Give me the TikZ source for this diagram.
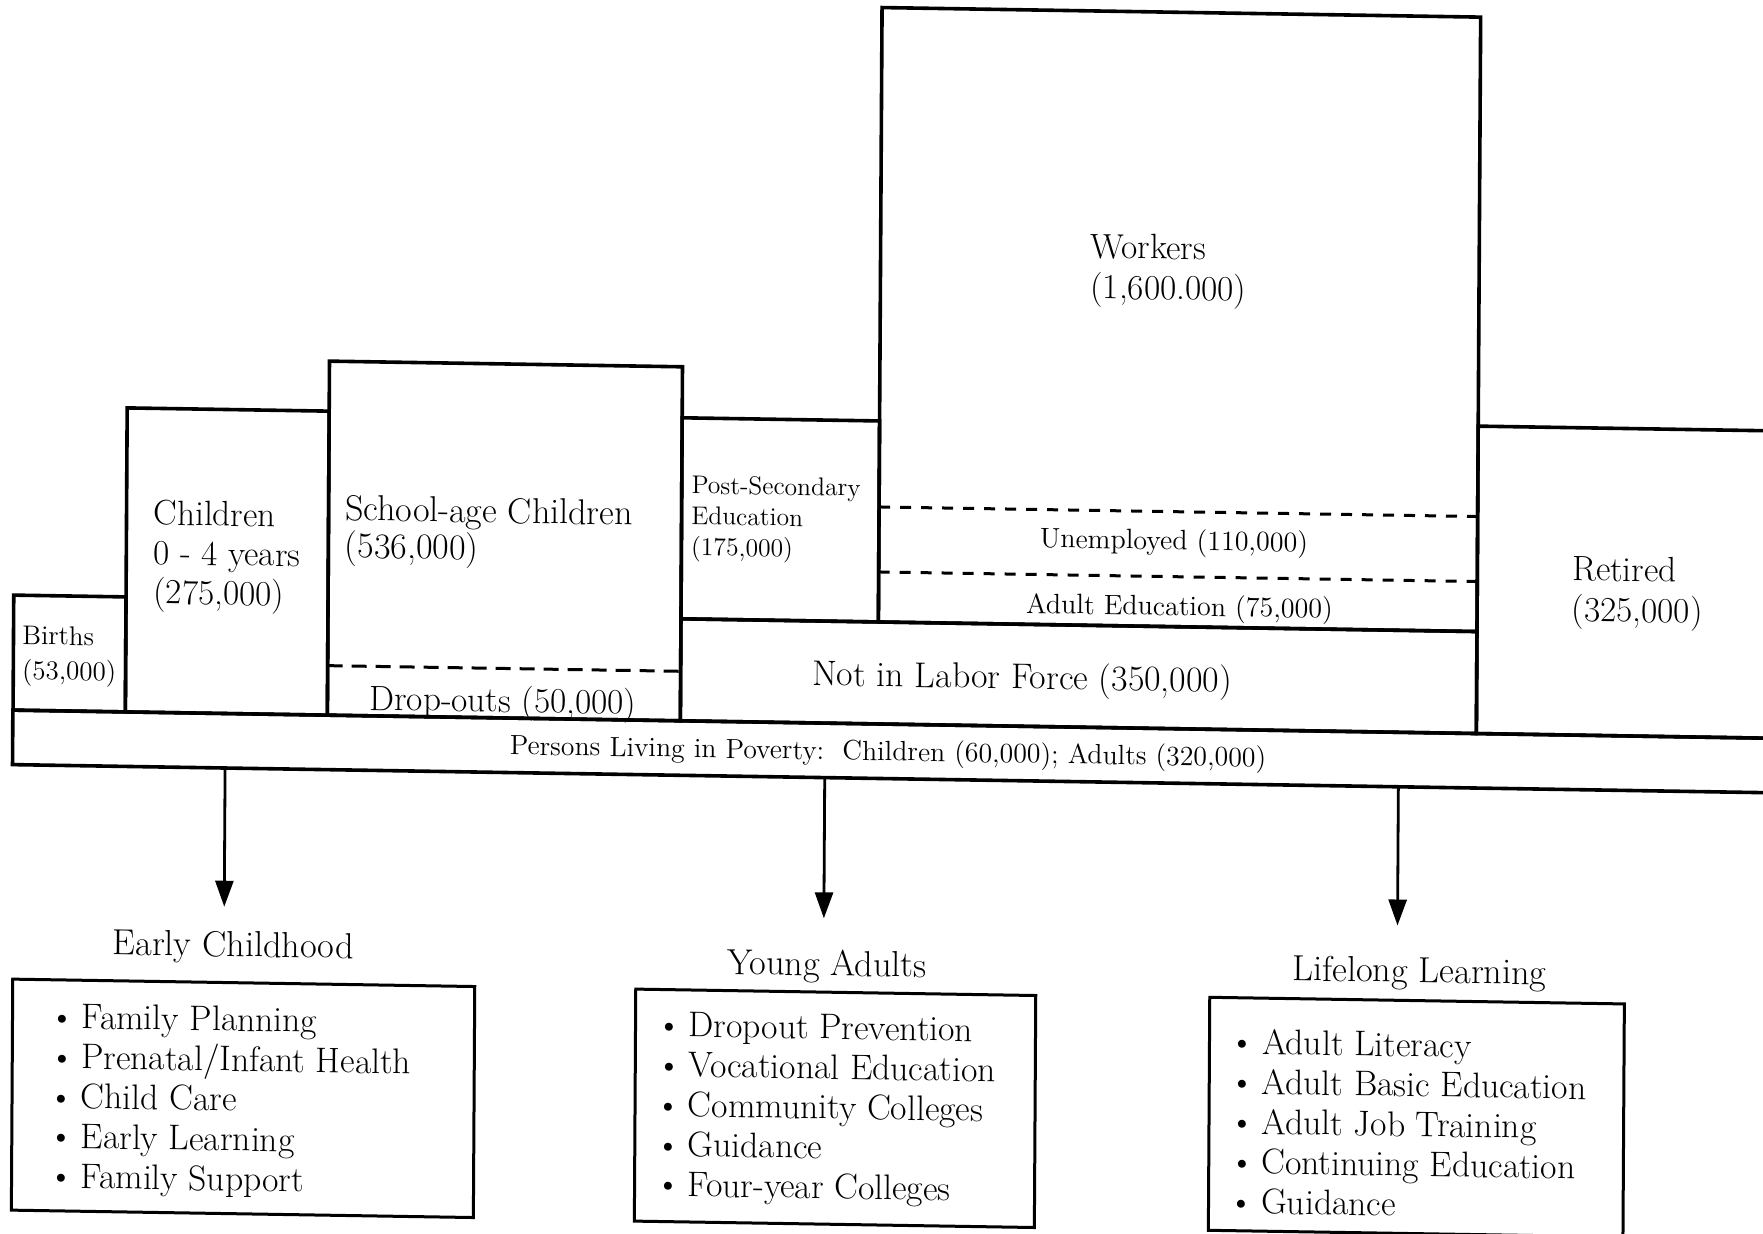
\documentclass[tikz,border=0pt]{standalone}
\usetikzlibrary{arrows.meta,calc}
\newcommand\bulitem{\makebox[8pt][c]{\textbullet}\hspace{5.65pt}}
\begin{document}
\begin{tikzpicture}[x=0.5pt,y=-0.5pt,
  every node/.style={transform shape, inner sep=0pt, outer sep=0pt},
  block/.style={draw=black, line width=1.8pt, rectangle, anchor=north west},
  lowblock/.style={draw=black, line width=1.5pt, rectangle, anchor=north west},
  lbl/.style={align=left, anchor=north west},
  divider/.style={line width=1.5pt, dash pattern=on 7.5pt off 4.5pt},
  divider2/.style={line width=1.5pt, dash pattern=on 5.5pt off 5pt},
  arr/.style={line width=1.4pt, -{Triangle[length=13pt,width=9pt]}},
  head/.style={font=\fontsize{18.1}{20}\selectfont},
  listtxt/.style={lbl, font=\fontsize{17.8}{19.95}\selectfont}
]
\useasboundingbox (0,0) rectangle (1763,1234);
\clip (0,0) rectangle (1763,1234);
\begin{scope}[cm={1,-0.016,0.006,1,(1.851pt,7.048pt)}]
  % upper blocks
  \node[block, minimum width=56.15pt, minimum height=57.5pt] (births) at (13.7,609) {};
  \node[block, minimum width=101pt, minimum height=152pt] (kids) at (126,420) {};
  \node[block, minimum width=176.5pt, minimum height=177pt] (school) at (328,370) {};
  \node[block, minimum width=98.7pt, minimum height=100.5pt] (postsec) at (681,421) {};
  \node[block, minimum width=299.3pt, minimum height=307.2pt] (workers) at (878.4,7.6) {};
  \node[block, minimum width=398pt, minimum height=51pt] (nlf) at (681,622) {};
  \node[block, minimum width=186.5pt, minimum height=153.7pt] (retired) at (1477,416.6) {};
  \node[block, minimum width=918.25pt, minimum height=27.25pt] (band) at (13.5,724) {};
  % dividers
  \draw[divider] (328,674.5) -- (681,674.5);
  \draw[divider2] (878.4,507) -- (1477,507);
  \draw[divider2] (878.4,572) -- (1477,572);
  % labels
  \node[lbl, font=\fontsize{13.5}{17.4}\selectfont] (birthstxt) at (22.6,639.4) {Births\\(53,000)};
  \node[lbl, font=\fontsize{17.6}{19.7}\selectfont] (kidstxt) at (153.4,511.9) {Children\\0 - 4 years\\(275,000)};
  \node[lbl, font=\fontsize{18}{18.55}\selectfont] (schooltxt) at (344.6,503.9) {School-age Children\\(536,000)};
  \node[font=\fontsize{17.6}{20}\selectfont] (droptxt) at (503.5,709.5) {Drop-outs (50,000)};
  \node[lbl, font=\fontsize{12.8}{15.45}\selectfont] (posttxt) at (690.8,478.6) {Post-Secondary\\Education\\(175,000)};
  \node[lbl, font=\fontsize{17.6}{20.2}\selectfont] (workerstxt) at (1088.5,230.3) {Workers\\(1,600.000)};
  \node[font=\fontsize{14}{16}\selectfont] (unemptxt) at (1173.4,538) {Unemployed (110,000)};
  \node[font=\fontsize{14}{16}\selectfont] (adulttxt) at (1179.4,603.8) {Adult Education (75,000)};
  \node[font=\fontsize{17.9}{20}\selectfont] (nlftxt) at (1022.4,677.6) {Not in Labor Force (350,000)};
  \node[lbl, font=\fontsize{17.6}{20.25}\selectfont] (rettxt) at (1571.8,545) {Retired\\(325,000)};
  \node[font=\fontsize{13.9}{16}\selectfont] (povtxt) at (888.8,753.6) {Persons Living in Poverty:\ \ Children (60,000); Adults (320,000)};
  % lower groups
  \node[head] (echead) at (235.3,958) {Early Childhood};
  \node[head] (yahead) at (829,967.5) {Young Adults};
  \node[head] (llhead) at (1421.7,965) {Lifelong Learning};
  \node[lowblock, minimum width=231pt, minimum height=115.5pt] (ecbox) at (15,993) {};
  \node[lowblock, minimum width=200pt, minimum height=116pt] (yabox) at (638,993) {};
  \node[lowblock, minimum width=207.3pt, minimum height=116.5pt] (llbox) at (1212,992) {};
  \node[listtxt] (eclist) at (56.7,1016.8) {\bulitem Family Planning\\\bulitem Prenatal/Infant Health\\\bulitem Child Care\\\bulitem Early Learning\\\bulitem Family Support};
  \node[listtxt] (yalist) at (663.7,1015.6) {\bulitem Dropout Prevention\\\bulitem Vocational Education\\\bulitem Community Colleges\\\bulitem Guidance\\\bulitem Four-year Colleges};
  \node[listtxt] (lllist) at (1237.3,1022.9) {\bulitem Adult Literacy\\\bulitem Adult Basic Education\\\bulitem Adult Job Training\\\bulitem Continuing Education\\\bulitem Guidance};
  % arrows
  \coordinate (ecend) at (226,917);
  \coordinate (yaend) at (825.5,919);
  \coordinate (llend) at (1399,917);
  \draw[arr] ($(band.south west)!0.11571!(band.south east)$) -- (ecend);
  \draw[arr] ($(band.south west)!0.44214!(band.south east)$) -- (yaend);
  \draw[arr] ($(band.south west)!0.75443!(band.south east)$) -- (llend);
\end{scope}
\end{tikzpicture}
\end{document}
